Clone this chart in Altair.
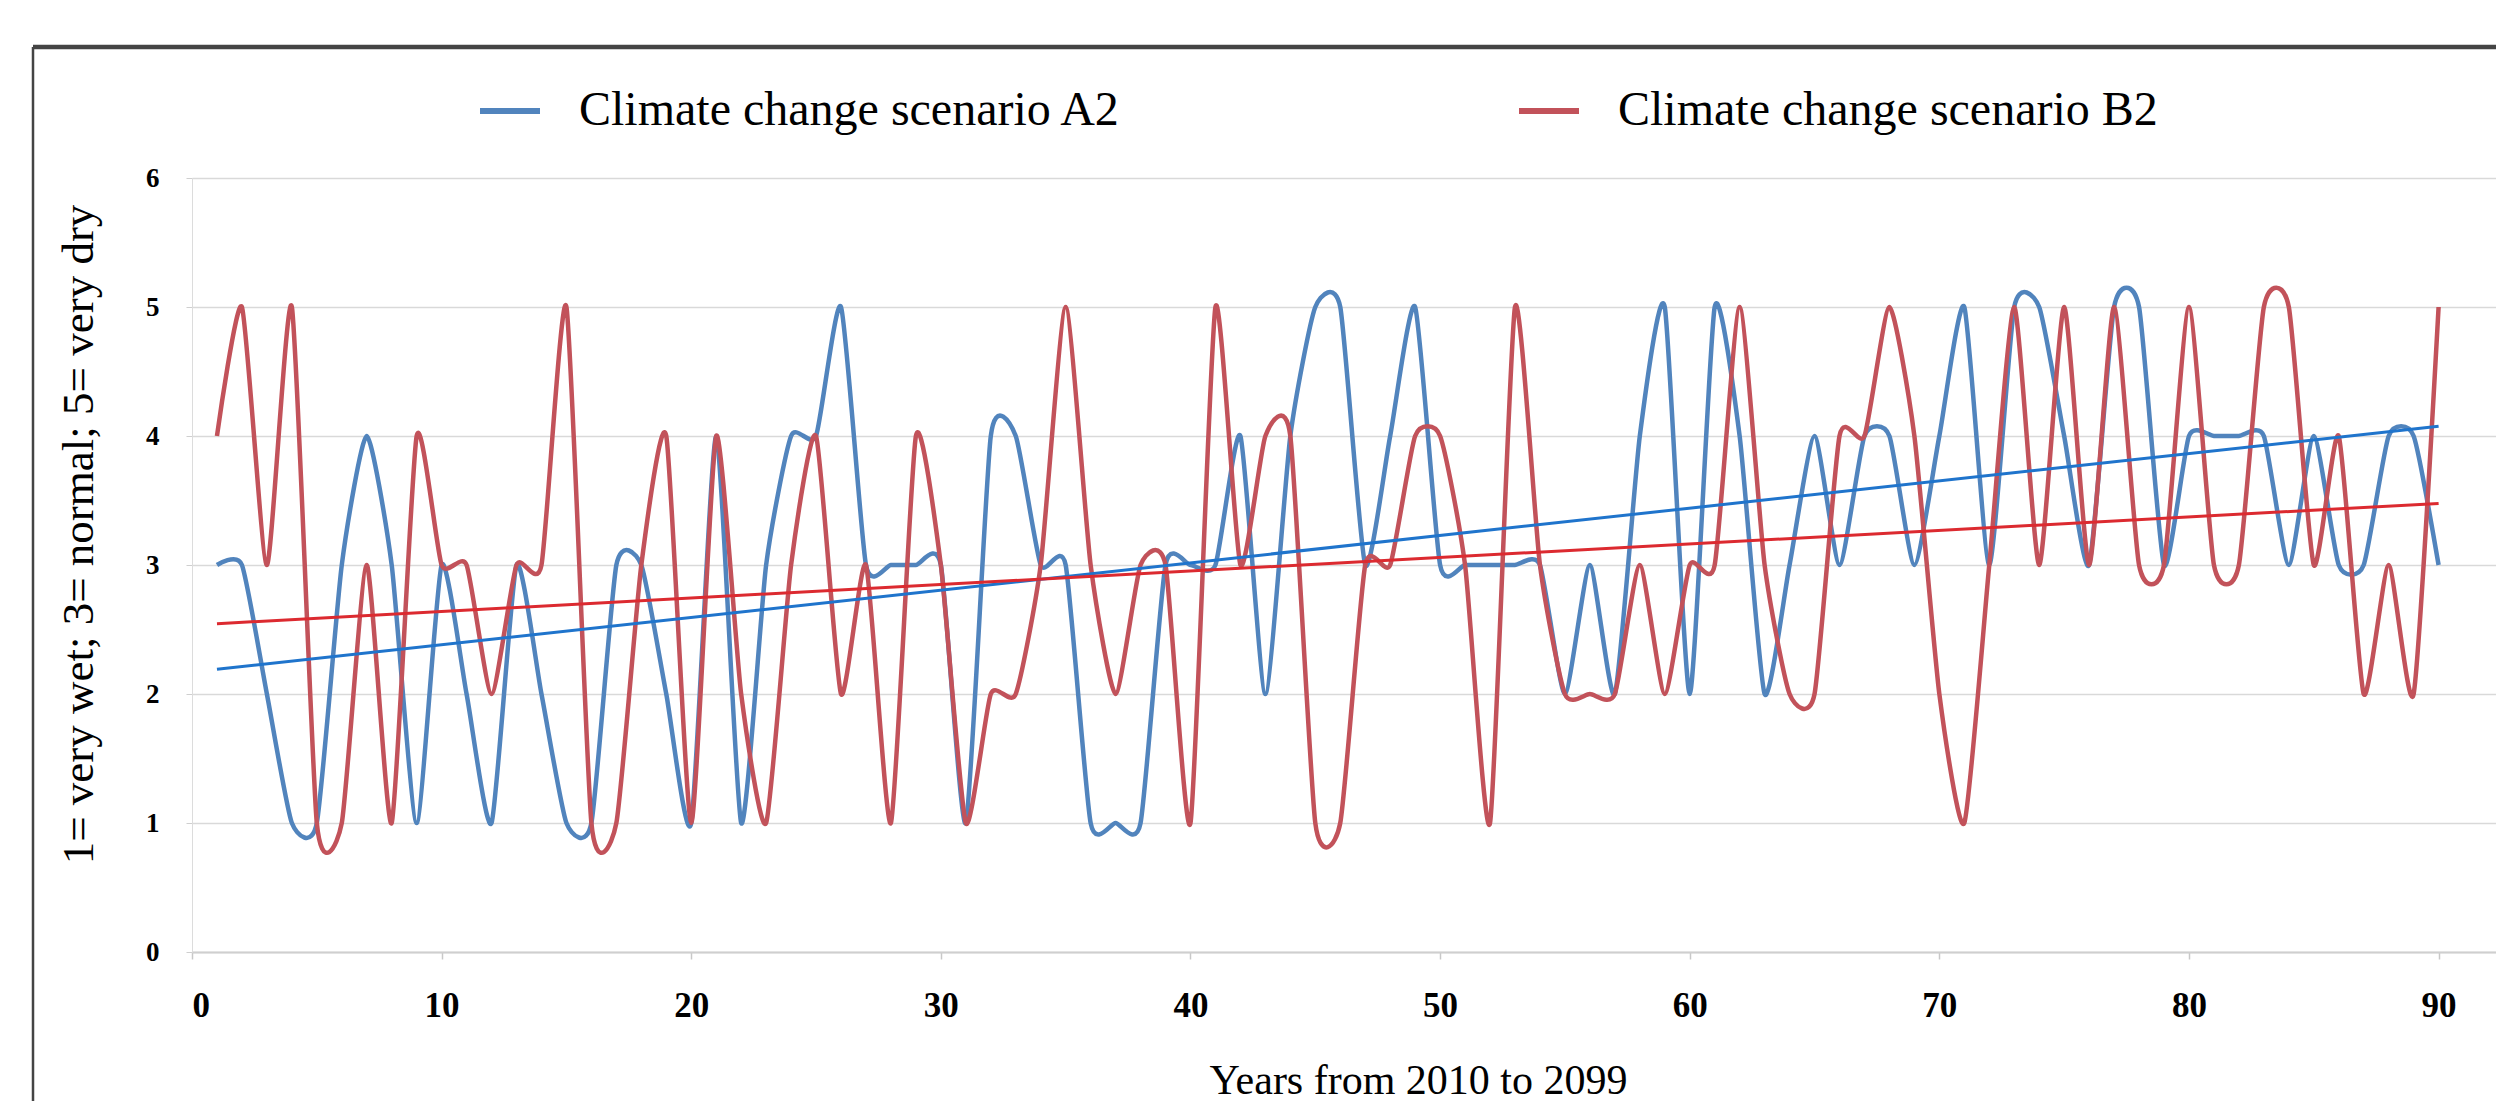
import altair as alt
import pandas as pd

# ---- data (years 1..90, index 1 = very wet ... 5 = very dry)
years = list(range(1, 91))

a2_values = [3, 3, 2, 1, 1, 3, 4, 3, 1, 3,
             2, 1, 3, 2, 1, 1, 3, 3, 2, 1,
             4, 1, 3, 4, 4, 5, 3, 3, 3, 3,
             1, 4, 4, 3, 3, 1, 1, 1, 3, 3,
             3, 4, 2, 4, 5, 5, 3, 4, 5, 3,
             3, 3, 3, 3, 2, 3, 2, 4, 5, 2,
             5, 4, 2, 3, 4, 3, 4, 4, 3, 4,
             5, 3, 5, 5, 4, 3, 5, 5, 3, 4,
             4, 4, 4, 3, 4, 3, 3, 4, 4, 3]

b2_values = [4, 5, 3, 5, 1, 1, 3, 1, 4, 3,
             3, 2, 3, 3, 5, 1, 1, 3, 4, 1,
             4, 2, 1, 3, 4, 2, 3, 1, 4, 3,
             1, 2, 2, 3, 5, 3, 2, 3, 3, 1,
             5, 3, 4, 4, 1, 1, 3, 3, 4, 4,
             3, 1, 5, 3, 2, 2, 2, 3, 2, 3,
             3, 5, 3, 2, 2, 4, 4, 5, 4, 2,
             1, 3, 5, 3, 5, 3, 5, 3, 3, 5,
             3, 3, 5, 5, 3, 4, 2, 3, 2, 5]

series_names = ["Climate change scenario A2", "Climate change scenario B2"]
x_ticks = [0, 10, 20, 30, 40, 50, 60, 70, 80, 90]
y_ticks = [0, 1, 2, 3, 4, 5, 6]

df = pd.DataFrame({
    "year": years + years,
    "value": a2_values + b2_values,
    "series": [series_names[0]] * len(years) + [series_names[1]] * len(years),
})

FONT = "Liberation Serif"
W, H = 2304, 774

x_enc = alt.X(
    "year:Q",
    scale=alt.Scale(domain=[0, 92.3], nice=False, zero=False),
    axis=alt.Axis(
        values=x_ticks, grid=False, title="Years from 2010 to 2099",
        labelFont=FONT, labelFontSize=35, labelFontWeight="bold", labelColor="#000000",
        labelPadding=29, tickSize=7, tickColor="#c8c8c8", tickWidth=1.5,
        domainColor="#cfcfcf", domainWidth=2,
        titleFont=FONT, titleFontSize=42, titleFontWeight="normal", titleColor="#000000",
        titleX=1226, titleY=141, titleBaseline="alphabetic", titleAnchor="middle",
        titleAlign="center",
    ),
)

y_enc = alt.Y(
    "value:Q",
    scale=alt.Scale(domain=[0, 6], nice=False),
    axis=alt.Axis(
        values=y_ticks, grid=True, gridColor="#d9d9d9", gridWidth=1.5,
        title="1= very wet; 3= normal; 5= very dry",
        labelFont=FONT, labelFontSize=27, labelFontWeight="bold", labelColor="#000000",
        labelPadding=27, tickSize=6, tickColor="#cfcfcf", domainColor="#dcdcdc",
        titleFont=FONT, titleFontSize=45, titleFontWeight="normal", titleColor="#000000",
        titleX=-114, titleY=356, titleBaseline="middle", titleAlign="center",
        titleAngle=270,
    ),
)

base = alt.Chart(df)

lines = base.mark_line(interpolate="cardinal", tension=0.4, strokeWidth=4.5).encode(
    x=x_enc,
    y=y_enc,
    color=alt.Color(
        "series:N",
        scale=alt.Scale(domain=series_names, range=["#5184bd", "#c2525a"]),
        legend=alt.Legend(
            title=None, orient="none", legendX=285, legendY=-100, direction="horizontal",
            symbolType="stroke", symbolSize=3600, symbolStrokeWidth=6,
            labelFont=FONT, labelFontSize=48, labelColor="#000000", labelLimit=1200,
            labelOffset=36, columnPadding=385, padding=0,
        ),
    ),
)

trend = base.transform_regression(
    "year", "value", groupby=["series"], extent=[1, 90]
).mark_line(strokeWidth=3).encode(
    x=x_enc,
    y=y_enc,
    color=alt.Color(
        "series:N",
        scale=alt.Scale(domain=series_names, range=["#1f74cc", "#dc2a30"]),
        legend=None,
    ),
)

frame_df = pd.DataFrame({"k": [0]})
frame_top = alt.Chart(frame_df).mark_rule(color="#444444", strokeWidth=4.5).encode(
    x=alt.value(-159), x2=alt.value(W), y=alt.value(-131)
)
frame_left = alt.Chart(frame_df).mark_rule(color="#444444", strokeWidth=2.5).encode(
    x=alt.value(-159), y=alt.value(-131), y2=alt.value(930)
)

chart = alt.layer(lines, trend, frame_top, frame_left).resolve_scale(
    color="independent"
).properties(
    width=W,
    height=H,
    autosize=alt.AutoSizeParams(type="none"),
    padding={"left": 184, "top": 170, "right": 0, "bottom": 149},
    background="#ffffff",
).configure_view(stroke=None)

chart.save("out.html", embed_options={"renderer": "svg", "actions": False})
